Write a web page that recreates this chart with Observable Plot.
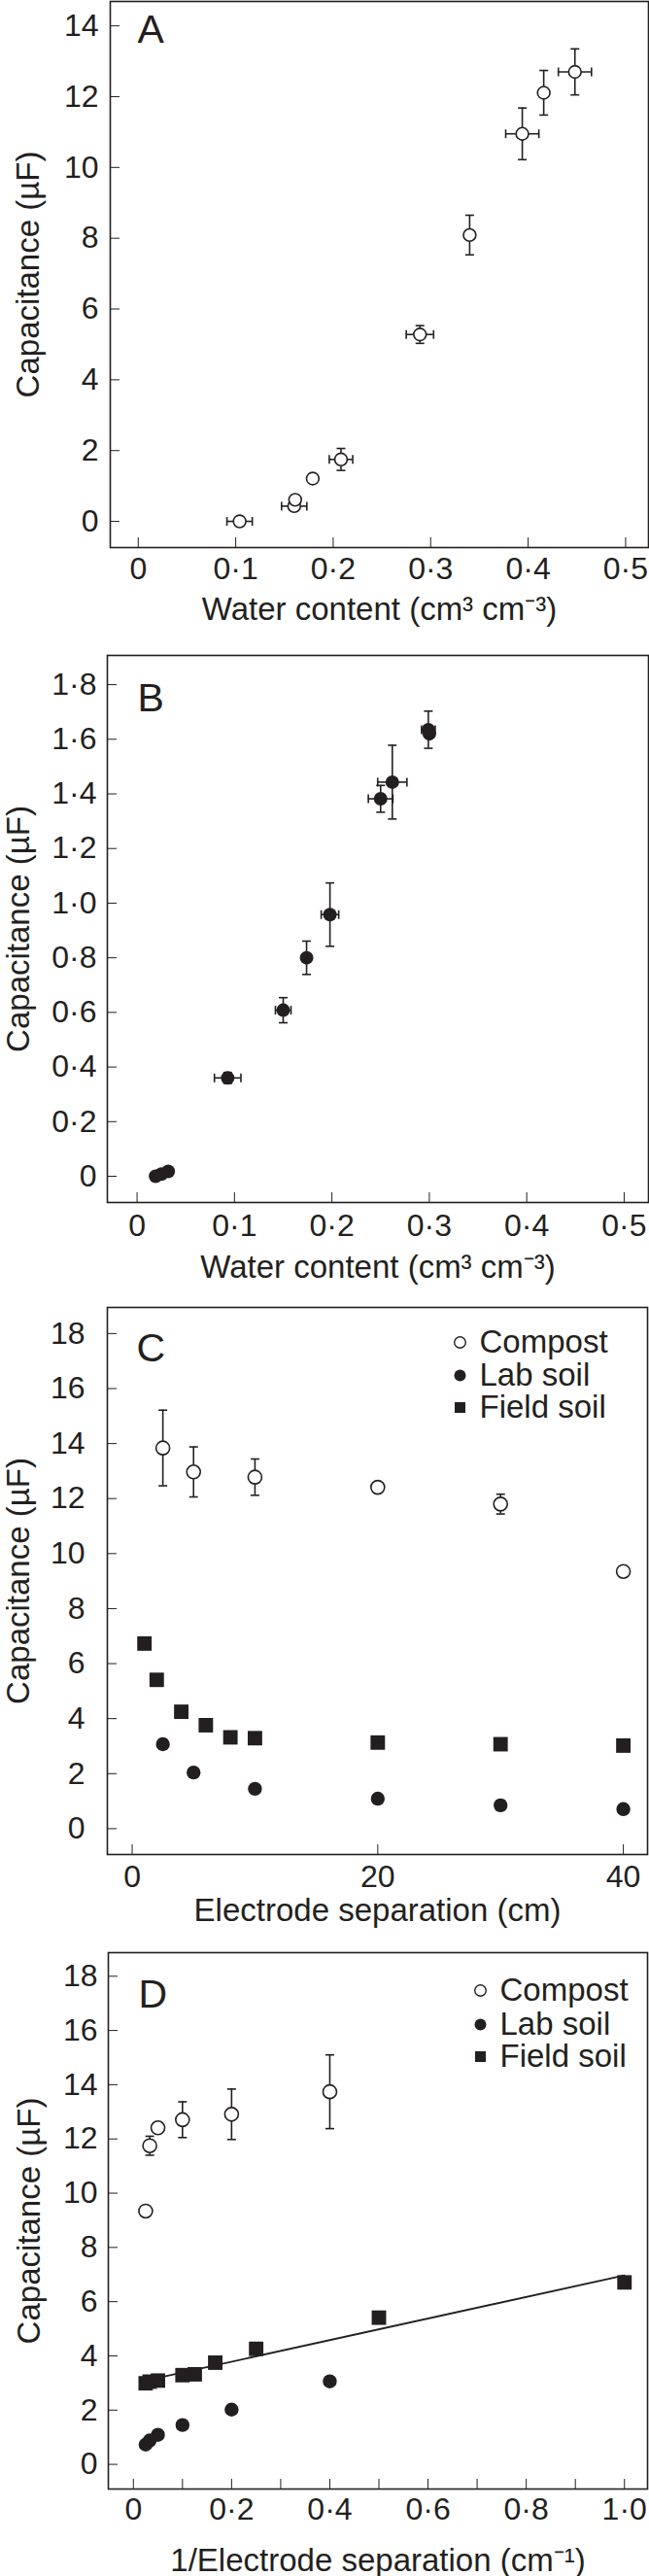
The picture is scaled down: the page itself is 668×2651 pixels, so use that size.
<!DOCTYPE html>
<html><head><meta charset="utf-8">
<script src="https://cdn.jsdelivr.net/npm/d3@7"></script>
<script src="https://cdn.jsdelivr.net/npm/@observablehq/plot@0.6"></script>
<style>
html,body{margin:0;padding:0;background:#fff;}
#chart svg{display:block;}
</style></head><body><div id="chart"></div>
<script>
// ---------- Panel A: compost, capacitance vs water content ----------
const waterA    = [0.104, 0.160, 0.161, 0.179, 0.208, 0.289, 0.340, 0.394, 0.416, 0.448];
const capA      = [0.00, 0.43, 0.61, 1.21, 1.75, 5.28, 8.09, 10.95, 12.11, 12.70];
const waterErrA = [0.013, 0.013, 0, 0, 0.012, 0.014, 0, 0.017, 0, 0.017];
const capErrA   = [0, 0, 0, 0, 0.31, 0.25, 0.56, 0.73, 0.63, 0.65];

// ---------- Panel B: lab soil, capacitance vs water content ----------
const waterB    = [0.019, 0.025, 0.032, 0.093, 0.150, 0.174, 0.198, 0.250, 0.262, 0.299, 0.300];
const capB      = [0.000, 0.008, 0.018, 0.360, 0.608, 0.800, 0.958, 1.382, 1.443, 1.635, 1.620];
const waterErrB = [0, 0, 0, 0.0136, 0.008, 0, 0.009, 0.0126, 0.015, 0.007, 0];
const capErrB   = [0, 0, 0, 0.02, 0.046, 0.061, 0.116, 0.049, 0.135, 0.068, 0];

// ---------- Panel C: capacitance vs electrode separation ----------
const sepC        = [2.5, 5, 10, 20, 30, 40];
const compostC    = [13.84, 12.97, 12.78, 12.41, 11.80, 9.35];
const compostErrC = [1.375, 0.91, 0.66, 0, 0.36, 0];
const labC        = [3.07, 2.04, 1.45, 1.09, 0.85, 0.71];
const labErrC     = [0.18, 0, 0, 0, 0.18, 0];
const sepFieldC   = [1, 2, 4, 6, 8, 10, 20, 30, 40];
const fieldC      = [6.73, 5.41, 4.25, 3.76, 3.32, 3.29, 3.13, 3.07, 3.02];

// ---------- Panel D: capacitance vs 1/electrode separation ----------
const invSepD     = [0.4, 0.2, 0.1, 0.05, 0.0333, 0.025];
const compostD    = [13.74, 12.91, 12.71, 12.41, 11.75, 9.34];
const compostErrD = [1.36, 0.93, 0.66, 0, 0.35, 0];
const labD        = [3.06, 2.02, 1.45, 1.09, 0.88, 0.73];
const labErrD     = [0, 0, 0, 0, 0, 0];
const invSepFieldD = [1.0, 0.5, 0.25, 0.1667, 0.125, 0.1, 0.05, 0.0333, 0.025];
const fieldD       = [6.71, 5.41, 4.26, 3.75, 3.32, 3.29, 3.09, 3.05, 2.99];

// ---------- ticks & labels ----------
const ticksWater = [0, 0.1, 0.2, 0.3, 0.4, 0.5];
const ticksCapA  = [0, 2, 4, 6, 8, 10, 12, 14];
const ticksCapB  = [0, 0.2, 0.4, 0.6, 0.8, 1.0, 1.2, 1.4, 1.6, 1.8];
const ticksCapCD = [0, 2, 4, 6, 8, 10, 12, 14, 16, 18];
const ticksSep   = [0, 20, 40];
const ticksInv   = [0, 0.1, 0.2, 0.3, 0.4, 0.5, 0.6, 0.7, 0.8, 0.9, 1.0];
const legendLabels = ["Compost", "Lab soil", "Field soil"];
const yTitle = "Capacitance (µF)";
const xTitleWater = "Water content (cm³ cm⁻³)";
const xTitleSep = "Electrode separation (cm)";
const xTitleInv = "1/Electrode separation (cm⁻¹)";

const INK = "#231f20";
const FONT = "'Liberation Sans', Arial, Helvetica, sans-serif";
const TITLE_SIZE = 33;
const fmtDec = d => d === 0 ? "0" : d.toFixed(1).replace(".", "·");
const fmtInt = d => String(d);
const fmtInvMajor = d => (Math.round(d * 10) % 2 === 0) ? fmtDec(d) : "";

const rows = (xs, ys, exs, eys) => xs.map((x, i) => ({x, y: ys[i], ex: exs ? exs[i] : 0, ey: eys ? eys[i] : 0}));

// error-bar cap symbols
const capH = {draw(ctx, size) { const r = Math.sqrt(size / Math.PI); ctx.moveTo(-r, 0); ctx.lineTo(r, 0); }};
const capV = {draw(ctx, size) { const r = Math.sqrt(size / Math.PI); ctx.moveTo(0, -r); ctx.lineTo(0, r); }};

function errorMarks(data) {
  const wy = data.filter(d => d.ey > 0), wx = data.filter(d => d.ex > 0);
  const st = {stroke: INK, strokeWidth: 1.6, fill: "none"};
  return [
    Plot.ruleX(wy, {x: "x", y1: d => d.y - d.ey, y2: d => d.y + d.ey, ...st}),
    Plot.dot(wy, {x: "x", y: d => d.y - d.ey, symbol: capH, r: 4.5, ...st}),
    Plot.dot(wy, {x: "x", y: d => d.y + d.ey, symbol: capH, r: 4.5, ...st}),
    Plot.ruleY(wx, {y: "y", x1: d => d.x - d.ex, x2: d => d.x + d.ex, ...st}),
    Plot.dot(wx, {y: "y", x: d => d.x - d.ex, symbol: capV, r: 4.5, ...st}),
    Plot.dot(wx, {y: "y", x: d => d.x + d.ex, symbol: capV, r: 4.5, ...st})
  ];
}
const openDots = (data, r) => Plot.dot(data, {x: "x", y: "y", r, fill: "#fff", stroke: INK, strokeWidth: 1.6});
const fillDots = (data, r) => Plot.dot(data, {x: "x", y: "y", r, fill: INK, stroke: "none"});
const squares  = (data, r) => Plot.dot(data, {x: "x", y: "y", r, symbol: "square", fill: INK, stroke: "none"});

function legendMarks(symDx, textDx, rowDy) {
  const specs = [
    {symbol: "circle", r: 5.8, fill: "#fff", stroke: INK, strokeWidth: 1.4},
    {symbol: "circle", r: 6, fill: INK, stroke: "none"},
    {symbol: "square", r: 6.2, fill: INK, stroke: "none"}
  ];
  return legendLabels.flatMap((label, i) => [
    Plot.dot([label], {frameAnchor: "top-right", dx: symDx, dy: rowDy[i], ...specs[i]}),
    Plot.text([label], {frameAnchor: "top-right", dx: textDx, dy: rowDy[i], textAnchor: "start", lineAnchor: "middle", fontSize: TITLE_SIZE, fill: INK})
  ]);
}

function panel(o) {
  return Plot.plot({
    width: 668, height: o.height,
    marginTop: o.mt, marginRight: o.mr, marginBottom: o.mb, marginLeft: o.ml,
    style: {fontFamily: FONT, fontSize: "32px", color: INK, background: "#fff", overflow: "visible"},
    x: {domain: o.xDomain, ticks: o.xTicks, tickFormat: o.xFormat, tickSize: -10, tickPadding: o.xPad, label: null},
    y: {domain: o.yDomain, ticks: o.yTicks, tickFormat: o.yFormat, tickSize: -10, tickPadding: o.yPad, label: null},
    marks: [
      ...o.marks,
      Plot.frame({stroke: INK, strokeWidth: 1.6}),
      Plot.text([o.letter], {frameAnchor: "top-left", dx: o.letterDx, dy: o.letterDy, textAnchor: "start", lineAnchor: "top", fontSize: 41, fill: INK}),
      Plot.text([yTitle], {frameAnchor: "left", dx: o.yTitleDx, rotate: -90, textAnchor: "middle", lineAnchor: "middle", fontSize: TITLE_SIZE, fill: INK}),
      Plot.text([o.xTitle], {frameAnchor: "bottom", dy: o.xTitleDy, textAnchor: "middle", lineAnchor: "bottom", fontSize: TITLE_SIZE, fill: INK})
    ]
  });
}

const A = rows(waterA, capA, waterErrA, capErrA);
const B = rows(waterB, capB, waterErrB, capErrB);
const Cc = rows(sepC, compostC, null, compostErrC);
const Cl = rows(sepC, labC, null, labErrC);
const Cf = rows(sepFieldC, fieldC);
const Dc = rows(invSepD, compostD, null, compostErrD);
const Dl = rows(invSepD, labD, null, labErrD);
const Df = rows(invSepFieldD, fieldD);

const chart = document.getElementById("chart");

chart.append(panel({
  height: 660, mt: 1, mr: 1, mb: 97, ml: 113,
  xDomain: [-0.0287, 0.5235], yDomain: [-0.74, 14.69],
  xTicks: ticksWater, yTicks: ticksCapA, xFormat: fmtDec, yFormat: fmtInt,
  xPad: 20, yPad: 22,
  letter: "A", letterDx: 28, letterDy: 13, yTitleDx: -84, xTitle: xTitleWater, xTitleDy: 74,
  marks: [...errorMarks(A), openDots(A, 6.4)]
}));

chart.append(panel({
  height: 660, mt: 14, mr: 1, mb: 83, ml: 110,
  xDomain: [-0.0305, 0.525], yDomain: [-0.096, 1.907],
  xTicks: ticksWater, yTicks: ticksCapB, xFormat: fmtDec, yFormat: fmtDec,
  xPad: 22, yPad: 21,
  letter: "B", letterDx: 31, letterDy: 28, yTitleDx: -91, xTitle: xTitleWater, xTitleDy: 77,
  marks: [...errorMarks(B), fillDots(B, 7)]
}));

chart.append(panel({
  height: 660, mt: 25, mr: 2, mb: 72, ml: 110,
  xDomain: [-2.02, 41.97], yDomain: [-0.94, 18.95],
  xTicks: ticksSep, yTicks: ticksCapCD, xFormat: fmtInt, yFormat: fmtInt,
  xPad: 21, yPad: 33,
  letter: "C", letterDx: 30, letterDy: 26, yTitleDx: -91, xTitle: xTitleSep, xTitleDy: 68,
  marks: [
    ...errorMarks(Cc), ...errorMarks(Cl),
    openDots(Cc, 7), fillDots(Cl, 7.2), squares(Cf, 8.4),
    ...legendMarks(-193, -173, [36, 70, 103])
  ]
}));

chart.append(panel({
  height: 671, mt: 29, mr: 2, mb: 90, ml: 111,
  xDomain: [-0.051, 1.047], yDomain: [-0.91, 18.87],
  xTicks: ticksInv, yTicks: ticksCapCD, xFormat: fmtInvMajor, yFormat: fmtInt,
  xPad: 19, yPad: 21,
  letter: "D", letterDx: 31, letterDy: 27, yTitleDx: -81, xTitle: xTitleInv, xTitleDy: 84,
  marks: [
    Plot.linearRegressionY(Df, {x: "x", y: "y", ci: 0, stroke: INK, strokeWidth: 1.8}),
    ...errorMarks(Dc),
    openDots(Dc, 7), fillDots(Dl, 7.2), squares(Df, 8.4),
    ...legendMarks(-172, -152, [39, 74, 107])
  ]
}));
</script></body></html>
